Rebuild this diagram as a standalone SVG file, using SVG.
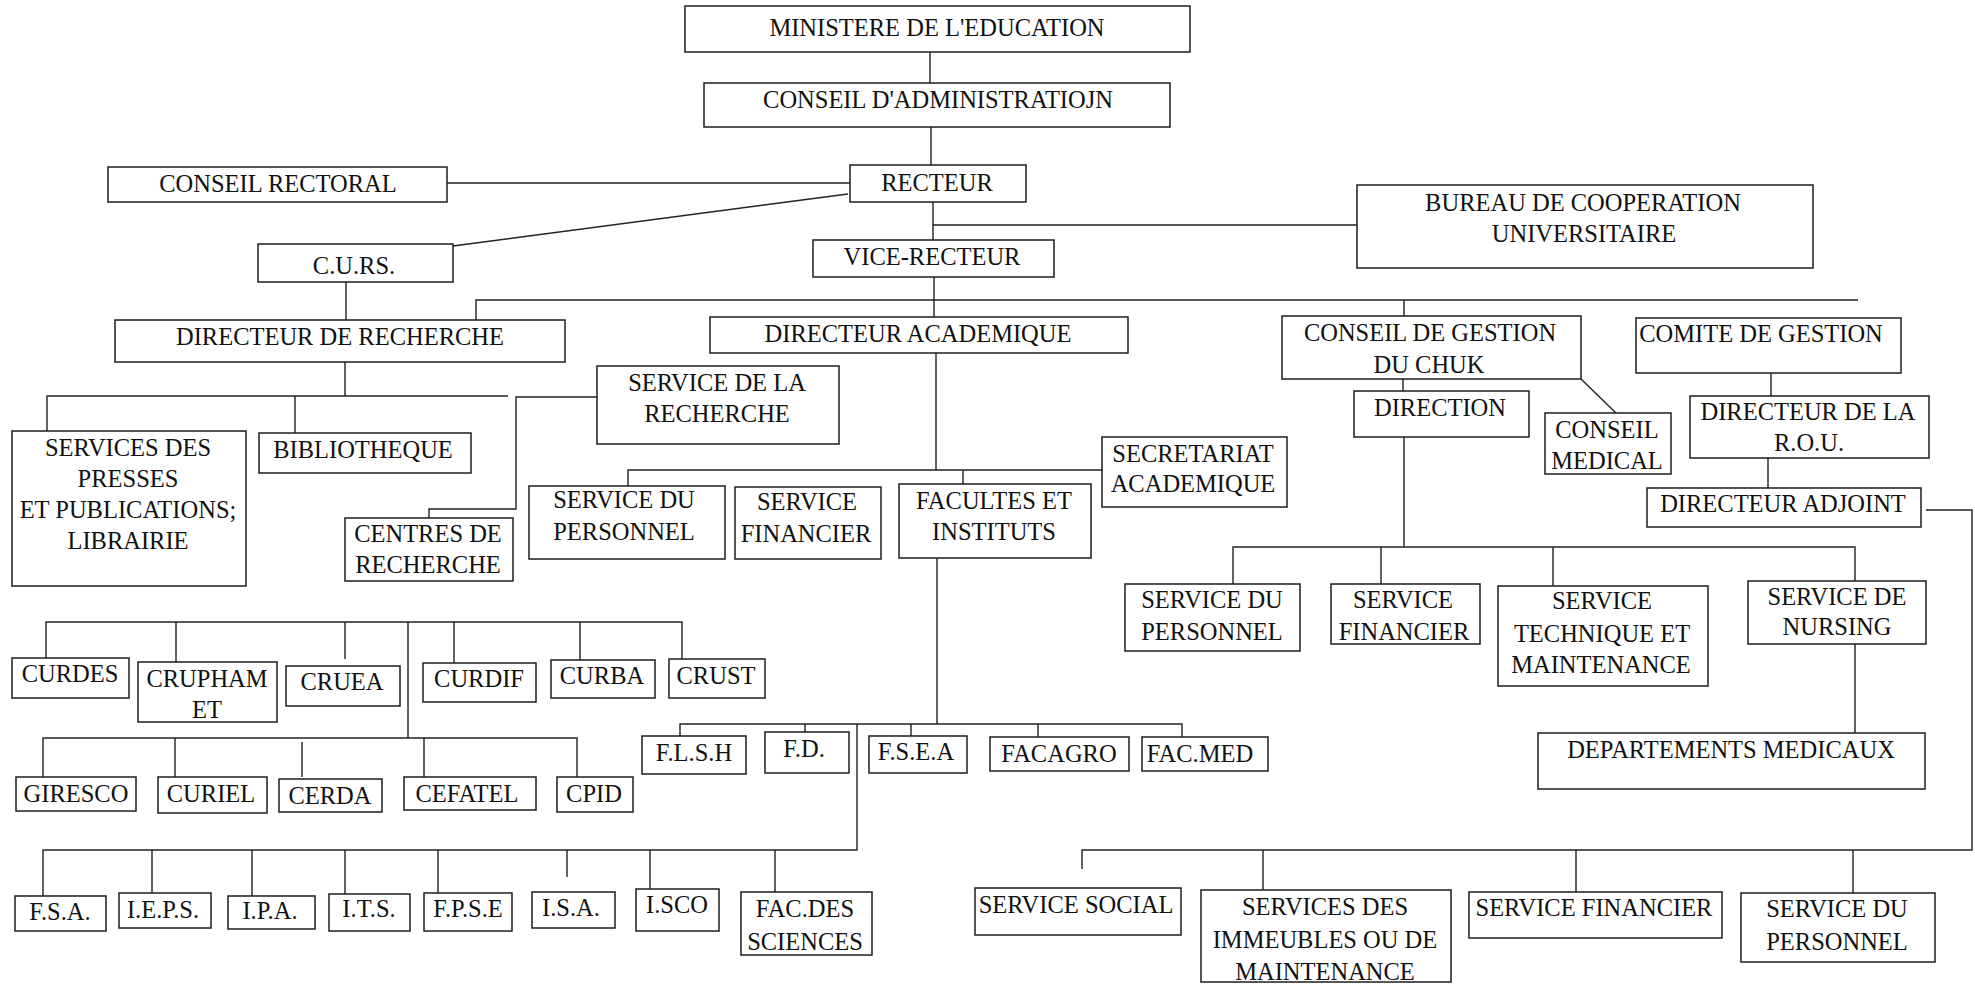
<svg xmlns="http://www.w3.org/2000/svg" width="1975" height="984" viewBox="0 0 1975 984">
<style>
.b{fill:#fff;stroke:#1c1c1c;stroke-width:1.5}
.t{font-family:"Liberation Serif","Times New Roman",serif;font-size:24.5px;fill:#111;text-anchor:middle}
.c{fill:none;stroke:#222;stroke-width:1.4}
</style>
<rect width="1975" height="984" fill="#fff"/>
<g id="connectors" class="c">
<path d="M930 52V83M931 127V165M447 183H850M453 246L848 194M933 202V240M933 225H1357M346 282V320M934 277V317"/>
<path d="M476 320V300H1858M1404 300V316"/>
<path d="M345 362V396M47 431V396H508M295 396V433M597 397H516V509H429V518"/>
<path d="M936 353V470M628 486V470H1102M963 470V484"/>
<path d="M937 558V724M680 736V724H1182V737M805 724V732M911 724V736M1038 724V737"/>
<path d="M857 724V850H43V896M152 850V893M252 850V896M345 850V894M438 850V893M567 850V877M650 850V889M775 850V892"/>
<path d="M46 658V622H682V659M176 622V662M345 622V659M408 622V738M454 622V663M580 622V660"/>
<path d="M43 777V738H577V777M175 738V777M302 742V777M424 738V777"/>
<path d="M1403 379V391M1581 379L1616 413M1404 437V547M1233 584V547H1855V581M1381 547V584M1553 547V586M1855 644V733"/>
<path d="M1771 373V396M1768 458V488M1926 510H1972V850H1082V869M1263 850V890M1576 850V892M1853 850V893"/>
</g>
<g id="ministere"><rect class="b" x="685" y="6" width="505" height="46"/><text class="t" x="937" y="36">MINISTERE DE L'EDUCATION</text></g>
<g id="conseil-admin"><rect class="b" x="704" y="83" width="466" height="44"/><text class="t" x="938" y="108">CONSEIL D'ADMINISTRATIOJN</text></g>
<g id="recteur"><rect class="b" x="850" y="165" width="176" height="37"/><text class="t" x="937" y="191">RECTEUR</text></g>
<g id="conseil-rectoral"><rect class="b" x="108" y="167" width="339" height="35"/><text class="t" x="278" y="192">CONSEIL RECTORAL</text></g>
<g id="curs"><rect class="b" x="258" y="244" width="195" height="38"/><text class="t" x="354" y="274">C.U.RS.</text></g>
<g id="bureau"><rect class="b" x="1357" y="185" width="456" height="83"/><text class="t" x="1583" y="211">BUREAU DE COOPERATION</text><text class="t" x="1584" y="242">UNIVERSITAIRE</text></g>
<g id="vice-recteur"><rect class="b" x="813" y="240" width="241" height="37"/><text class="t" x="932" y="265">VICE-RECTEUR</text></g>
<g id="directeur-recherche"><rect class="b" x="115" y="320" width="450" height="42"/><text class="t" x="340" y="345">DIRECTEUR DE RECHERCHE</text></g>
<g id="directeur-academique"><rect class="b" x="710" y="317" width="418" height="36"/><text class="t" x="918" y="342">DIRECTEUR ACADEMIQUE</text></g>
<g id="conseil-gestion-chuk"><rect class="b" x="1282" y="316" width="299" height="63"/><text class="t" x="1430" y="341">CONSEIL DE GESTION</text><text class="t" x="1429" y="373">DU CHUK</text></g>
<g id="comite-gestion"><rect class="b" x="1636" y="318" width="265" height="55"/><text class="t" x="1761" y="342">COMITE DE GESTION</text></g>
<g id="direction"><rect class="b" x="1354" y="391" width="175" height="46"/><text class="t" x="1440" y="416">DIRECTION</text></g>
<g id="conseil-medical"><rect class="b" x="1545" y="413" width="126" height="61"/><text class="t" x="1607" y="438">CONSEIL</text><text class="t" x="1607" y="469">MEDICAL</text></g>
<g id="directeur-rou"><rect class="b" x="1690" y="396" width="239" height="62"/><text class="t" x="1808" y="420">DIRECTEUR DE LA</text><text class="t" x="1809" y="451">R.O.U.</text></g>
<g id="directeur-adjoint"><rect class="b" x="1647" y="488" width="274" height="39"/><text class="t" x="1783" y="512">DIRECTEUR ADJOINT</text></g>
<g id="service-recherche"><rect class="b" x="597" y="366" width="242" height="78"/><text class="t" x="717" y="391">SERVICE DE LA</text><text class="t" x="717" y="422">RECHERCHE</text></g>
<g id="services-presses"><rect class="b" x="12" y="431" width="234" height="155"/><text class="t" x="128" y="456">SERVICES DES</text><text class="t" x="128" y="487">PRESSES</text><text class="t" x="128" y="518">ET PUBLICATIONS;</text><text class="t" x="128" y="549">LIBRAIRIE</text></g>
<g id="bibliotheque"><rect class="b" x="259" y="433" width="212" height="40"/><text class="t" x="363" y="458">BIBLIOTHEQUE</text></g>
<g id="centres-recherche"><rect class="b" x="345" y="518" width="168" height="63"/><text class="t" x="428" y="542">CENTRES DE</text><text class="t" x="428" y="573">RECHERCHE</text></g>
<g id="service-personnel-acad"><rect class="b" x="529" y="486" width="196" height="73"/><text class="t" x="624" y="508">SERVICE DU</text><text class="t" x="624" y="540">PERSONNEL</text></g>
<g id="service-financier-acad"><rect class="b" x="735" y="487" width="146" height="72"/><text class="t" x="807" y="510">SERVICE</text><text class="t" x="806" y="542">FINANCIER</text></g>
<g id="facultes-instituts"><rect class="b" x="899" y="484" width="192" height="74"/><text class="t" x="994" y="509">FACULTES ET</text><text class="t" x="994" y="540">INSTITUTS</text></g>
<g id="secretariat"><rect class="b" x="1102" y="437" width="185" height="70"/><text class="t" x="1193" y="462">SECRETARIAT</text><text class="t" x="1193" y="492">ACADEMIQUE</text></g>
<g id="chuk-personnel"><rect class="b" x="1125" y="584" width="175" height="67"/><text class="t" x="1212" y="608">SERVICE DU</text><text class="t" x="1212" y="640">PERSONNEL</text></g>
<g id="chuk-financier"><rect class="b" x="1331" y="584" width="149" height="60"/><text class="t" x="1403" y="608">SERVICE</text><text class="t" x="1404" y="640">FINANCIER</text></g>
<g id="chuk-technique"><rect class="b" x="1498" y="586" width="210" height="100"/><text class="t" x="1602" y="609">SERVICE</text><text class="t" x="1602" y="642">TECHNIQUE ET</text><text class="t" x="1601" y="673">MAINTENANCE</text></g>
<g id="chuk-nursing"><rect class="b" x="1748" y="581" width="178" height="63"/><text class="t" x="1837" y="605">SERVICE DE</text><text class="t" x="1837" y="635">NURSING</text></g>
<g id="departements-medicaux"><rect class="b" x="1538" y="733" width="387" height="56"/><text class="t" x="1731" y="758">DEPARTEMENTS MEDICAUX</text></g>
<g id="curdes"><rect class="b" x="12" y="658" width="117" height="40"/><text class="t" x="70" y="682">CURDES</text></g>
<g id="crupham"><rect class="b" x="138" y="662" width="139" height="60"/><text class="t" x="207" y="687">CRUPHAM</text><text class="t" x="207" y="718">ET</text></g>
<g id="cruea"><rect class="b" x="286" y="666" width="114" height="40"/><text class="t" x="342" y="690">CRUEA</text></g>
<g id="curdif"><rect class="b" x="423" y="663" width="113" height="39"/><text class="t" x="479" y="687">CURDIF</text></g>
<g id="curba"><rect class="b" x="551" y="660" width="104" height="38"/><text class="t" x="602" y="684">CURBA</text></g>
<g id="crust"><rect class="b" x="669" y="659" width="96" height="39"/><text class="t" x="716" y="684">CRUST</text></g>
<g id="giresco"><rect class="b" x="16" y="777" width="120" height="34"/><text class="t" x="76" y="802">GIRESCO</text></g>
<g id="curiel"><rect class="b" x="158" y="777" width="109" height="36"/><text class="t" x="211" y="802">CURIEL</text></g>
<g id="cerda"><rect class="b" x="279" y="779" width="103" height="33"/><text class="t" x="330" y="804">CERDA</text></g>
<g id="cefatel"><rect class="b" x="404" y="777" width="132" height="33"/><text class="t" x="467" y="802">CEFATEL</text></g>
<g id="cpid"><rect class="b" x="557" y="777" width="76" height="35"/><text class="t" x="594" y="802">CPID</text></g>
<g id="fsa"><rect class="b" x="15" y="896" width="91" height="35"/><text class="t" x="60" y="920">F.S.A.</text></g>
<g id="ieps"><rect class="b" x="119" y="893" width="92" height="35"/><text class="t" x="163" y="918">I.E.P.S.</text></g>
<g id="ipa"><rect class="b" x="228" y="896" width="87" height="33"/><text class="t" x="270" y="919">I.P.A.</text></g>
<g id="its"><rect class="b" x="329" y="894" width="81" height="37"/><text class="t" x="369" y="917">I.T.S.</text></g>
<g id="fpse"><rect class="b" x="424" y="893" width="88" height="38"/><text class="t" x="468" y="917">F.P.S.E</text></g>
<g id="isa"><rect class="b" x="532" y="892" width="83" height="36"/><text class="t" x="571" y="916">I.S.A.</text></g>
<g id="isco"><rect class="b" x="636" y="889" width="83" height="42"/><text class="t" x="677" y="913">I.SCO</text></g>
<g id="fac-sciences"><rect class="b" x="741" y="892" width="131" height="63"/><text class="t" x="805" y="917">FAC.DES</text><text class="t" x="805" y="950">SCIENCES</text></g>
<g id="flsh"><rect class="b" x="642" y="736" width="104" height="38"/><text class="t" x="694" y="761">F.L.S.H</text></g>
<g id="fd"><rect class="b" x="765" y="732" width="84" height="41"/><text class="t" x="804" y="757">F.D.</text></g>
<g id="fsea"><rect class="b" x="869" y="736" width="98" height="37"/><text class="t" x="916" y="760">F.S.E.A</text></g>
<g id="facagro"><rect class="b" x="990" y="737" width="139" height="34"/><text class="t" x="1059" y="762">FACAGRO</text></g>
<g id="facmed"><rect class="b" x="1142" y="737" width="126" height="34"/><text class="t" x="1200" y="762">FAC.MED</text></g>
<g id="service-social"><rect class="b" x="975" y="888" width="206" height="47"/><text class="t" x="1076" y="913">SERVICE SOCIAL</text></g>
<g id="services-immeubles"><rect class="b" x="1201" y="890" width="250" height="92"/><text class="t" x="1325" y="915">SERVICES DES</text><text class="t" x="1325" y="948">IMMEUBLES OU DE</text><text class="t" x="1325" y="980">MAINTENANCE</text></g>
<g id="service-financier-bas"><rect class="b" x="1469" y="892" width="253" height="46"/><text class="t" x="1594" y="916">SERVICE FINANCIER</text></g>
<g id="service-personnel-bas"><rect class="b" x="1741" y="893" width="194" height="69"/><text class="t" x="1837" y="917">SERVICE DU</text><text class="t" x="1837" y="950">PERSONNEL</text></g>
</svg>
